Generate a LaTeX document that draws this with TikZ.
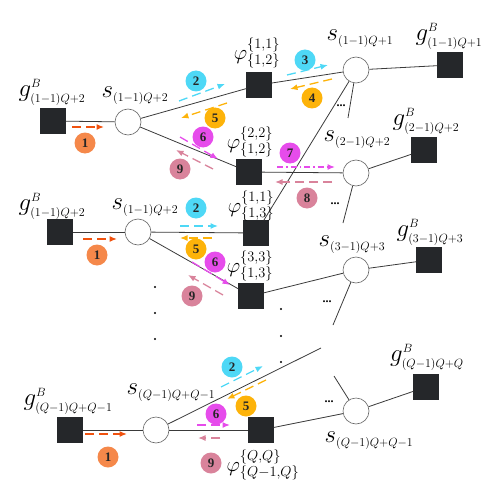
\documentclass[tikz,border=0pt]{standalone}
\usepackage{fontspec}
\setmainfont{Liberation Serif}
\DeclareMathSizes{26}{26}{13}{10}
\DeclareMathSizes{20}{20}{13.5}{10}
\usetikzlibrary{arrows.meta}
\definecolor{sqc}{HTML}{25272A}
\definecolor{c1}{HTML}{F5884A}
\definecolor{c2}{HTML}{4ED8F6}
\definecolor{c5}{HTML}{FDB30A}
\definecolor{c6}{HTML}{E64CEB}
\definecolor{c9}{HTML}{D9839B}
\definecolor{a1}{HTML}{F0520F}
\definecolor{edgec}{HTML}{3A3A3A}
\tikzset{
  sqnode/.style={rectangle, fill=sqc, draw=sqc, minimum size=25pt, inner sep=0pt},
  cnode/.style={circle, draw=black!60, fill=white, minimum size=26pt, inner sep=0pt, line width=0.6pt},
  link/.style={draw=edgec, line width=0.8pt},
  badge/.style={circle, minimum size=21pt, inner sep=0pt, text=black!85, font=\fontsize{13}{13}\selectfont\bfseries},
  flow/.style={dash pattern=on 9pt off 5pt, line width=1.3pt, -{Latex[length=7.5pt,width=6pt]}},
  glab/.style={inner sep=0pt, font=\fontsize{26}{28}\selectfont},
  plab/.style={inner sep=0pt, font=\fontsize{20}{22}\selectfont},
  dotn/.style={circle, fill=black, minimum size=2.4pt, inner sep=0pt},
  ell/.style={inner sep=0pt, font=\fontsize{12}{12}\selectfont\bfseries}
}
\begin{document}
\begin{tikzpicture}[x=1pt,y=-1pt]
\useasboundingbox (0,0) rectangle (499,500);
% nodes
\node[sqnode] (g1) at (53,121) {};
\node[cnode] (s1) at (128,122) {};
\node[sqnode] (p1) at (259,85) {};
\node[sqnode] (p2) at (249,172) {};
\node[cnode] (sA) at (356,70) {};
\node[sqnode] (gA) at (450,65) {};
\node[cnode] (sB) at (356,173) {};
\node[sqnode] (gB) at (424,150) {};
\node[sqnode] (g2) at (60,232) {};
\node[cnode] (s2) at (138,232) {};
\node[sqnode] (p3) at (256,233) {};
\node[sqnode] (p4) at (251,296) {};
\node[cnode] (sC) at (356,270) {};
\node[sqnode] (gC) at (429,260) {};
\node[sqnode] (g3) at (70,430) {};
\node[cnode] (s3) at (156,430) {};
\node[sqnode] (p5) at (261,430) {};
\node[cnode] (sD) at (356,411) {};
\node[sqnode] (gD) at (426,387) {};
% stub ends
\coordinate (tA) at (348,118);
\coordinate (tB) at (343,223);
\coordinate (tC) at (333,325);
\coordinate (tD) at (334,376);
\coordinate (tS) at (321,348);
% links
\draw[link] (g1) -- (s1);
\draw[link] (s1) -- (p1);
\draw[link] (s1) -- (p2);
\draw[link] (p1) -- (sA);
\draw[link] (sA) -- (gA);
\draw[link] (p2) -- (sB);
\draw[link] (sB) -- (gB);
\draw[link] (g2) -- (s2);
\draw[link] (s2) -- (p3);
\draw[link] (s2) -- (p4);
\draw[link] (p3) -- (sA);
\draw[link] (p4) -- (sC);
\draw[link] (sC) -- (gC);
\draw[link] (g3) -- (s3);
\draw[link] (s3) -- (p5);
\draw[link] (s3) -- (tS);
\draw[link] (p5) -- (sD);
\draw[link] (sD) -- (gD);
\draw[link] (sA) -- (tA);
\draw[link] (sB) -- (tB);
\draw[link] (sC) -- (tC);
\draw[link] (sD) -- (tD);
% ellipses
\node[ell] (eA) at (341,106) {...};
\node[ell] (eB) at (335,204) {...};
\node[ell] (eC) at (327,302) {...};
\node[ell] (eD) at (329,402) {...};
% vertical dots
\node[dotn] (d1) at (155,287) {};
\node[dotn] (d2) at (155,313) {};
\node[dotn] (d3) at (155,339) {};
\node[dotn] (d4) at (281,309) {};
\node[dotn] (d5) at (281,336) {};
\node[dotn] (d6) at (281,362) {};
% labels
\node[glab] (lg1) at (52,92) {$g^{B}_{(1-1)Q+2}$};
\node[glab] (ls1) at (135,96) {$s_{(1-1)Q+2}$};
\node[plab] (lp1) at (257,53) {$\varphi^{\{1,1\}}_{\{1,2\}}$};
\node[plab] (lp2) at (250,142) {$\varphi^{\{2,2\}}_{\{1,2\}}$};
\node[glab] (lsA) at (360,39) {$s_{(1-1)Q+1}$};
\node[glab] (lgA) at (449,36) {$g^{B}_{(1-1)Q+1}$};
\node[glab] (lsB) at (357,140) {$s_{(2-1)Q+2}$};
\node[glab] (lgB) at (426,121) {$g^{B}_{(2-1)Q+2}$};
\node[glab] (lg2) at (52,206) {$g^{B}_{(1-1)Q+2}$};
\node[glab] (ls2) at (145,208) {$s_{(1-1)Q+2}$};
\node[plab] (lp3) at (251,206) {$\varphi^{\{1,1\}}_{\{1,3\}}$};
\node[plab] (lp4) at (250,266) {$\varphi^{\{3,3\}}_{\{1,3\}}$};
\node[glab] (lsC) at (352,245) {$s_{(3-1)Q+3}$};
\node[glab] (lgC) at (430,232) {$g^{B}_{(3-1)Q+3}$};
\node[glab] (lg3) at (68,401) {$g^{B}_{(Q-1)Q+Q-1}$};
\node[glab] (ls3) at (171,393) {$s_{(Q-1)Q+Q-1}$};
\node[plab] (lp5) at (263,465) {$\varphi^{\{Q,Q\}}_{\{Q-1,Q\}}$};
\node[glab] (lgD) at (427,357) {$g^{B}_{(Q-1)Q+Q}$};
\node[glab] (lsD) at (369,441) {$s_{(Q-1)Q+Q-1}$};
% badges
\node[badge, fill=c1] (b1a) at (85,143) {1};
\node[badge, fill=c2] (b2a) at (196,81) {2};
\node[badge, fill=c5] (b5a) at (215,118) {5};
\node[badge, fill=c6] (b6a) at (203,137) {6};
\node[badge, fill=c9] (b9a) at (180,169) {9};
\node[badge, fill=c2] (b3a) at (305,60) {3};
\node[badge, fill=c5] (b4a) at (312,98) {4};
\node[badge, fill=c6] (b7a) at (290,153) {7};
\node[badge, fill=c9] (b8a) at (307,198) {8};
\node[badge, fill=c1] (b1b) at (97,255) {1};
\node[badge, fill=c2] (b2b) at (196,208) {2};
\node[badge, fill=c5] (b5b) at (196,249) {5};
\node[badge, fill=c6] (b6b) at (215,262) {6};
\node[badge, fill=c9] (b9b) at (192,296) {9};
\node[badge, fill=c1] (b1c) at (108,457) {1};
\node[badge, fill=c6] (b6c) at (216,414) {6};
\node[badge, fill=c9] (b9c) at (211,463) {9};
\node[badge, fill=c2] (b2c) at (232,367) {2};
\node[badge, fill=c5] (b5c) at (246,406) {5};
% flow arrow ends
\coordinate (f1as) at (72,127);   \coordinate (f1ae) at (104,127);
\coordinate (f2as) at (179,101);  \coordinate (f2ae) at (225,84);
\coordinate (f5as) at (227,103);  \coordinate (f5ae) at (181,118);
\coordinate (f6as) at (180,137);  \coordinate (f6ae) at (218,159);
\coordinate (f9as) at (213,169);  \coordinate (f9ae) at (176,150);
\coordinate (f3as) at (287,75);   \coordinate (f3ae) at (328,65);
\coordinate (f4as) at (332,79);   \coordinate (f4ae) at (290,89);
\coordinate (f7as) at (277,167);  \coordinate (f7ae) at (335,167);
\coordinate (f8as) at (332,182);  \coordinate (f8ae) at (275,182);
\coordinate (f1bs) at (83,239);   \coordinate (f1be) at (117,239);
\coordinate (f2bs) at (180,226);  \coordinate (f2be) at (218,226);
\coordinate (f5bs) at (212,238);  \coordinate (f5be) at (180,238);
\coordinate (f6bs) at (192,262);  \coordinate (f6be) at (230,285);
\coordinate (f9bs) at (223,295);  \coordinate (f9be) at (188,275);
\coordinate (f1cs) at (85,434);   \coordinate (f1ce) at (127,434);
\coordinate (f6cs) at (197,425);  \coordinate (f6ce) at (230,425);
\coordinate (f9cs) at (220,438);  \coordinate (f9ce) at (198,438);
\coordinate (f2cs) at (221,387);  \coordinate (f2ce) at (263,366);
\coordinate (f5cs) at (266,380);  \coordinate (f5ce) at (227,399);
% flows
\draw[flow, a1] (f1as) -- (f1ae);
\draw[flow, c2] (f2as) -- (f2ae);
\draw[flow, c5] (f5as) -- (f5ae);
\draw[flow, c6] (f6as) -- (f6ae);
\draw[flow, c9] (f9as) -- (f9ae);
\draw[flow, c2] (f3as) -- (f3ae);
\draw[flow, c5] (f4as) -- (f4ae);
\draw[flow, c6, dash pattern=on 6pt off 3pt on 1.5pt off 3pt] (f7as) -- (f7ae);
\draw[flow, c9] (f8as) -- (f8ae);
\draw[flow, a1] (f1bs) -- (f1be);
\draw[flow, c2] (f2bs) -- (f2be);
\draw[flow, c5] (f5bs) -- (f5be);
\draw[flow, c6] (f6bs) -- (f6be);
\draw[flow, c9] (f9bs) -- (f9be);
\draw[flow, a1] (f1cs) -- (f1ce);
\draw[flow, c6] (f6cs) -- (f6ce);
\draw[flow, c9] (f9cs) -- (f9ce);
\draw[flow, c2] (f2cs) -- (f2ce);
\draw[flow, c5] (f5cs) -- (f5ce);
\end{tikzpicture}
\end{document}
